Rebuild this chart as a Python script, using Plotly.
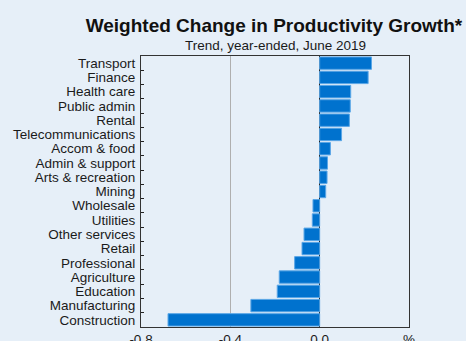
import plotly.graph_objects as go

categories = ["Transport", "Finance", "Health care", "Public admin", "Rental",
              "Telecommunications", "Accom & food", "Admin & support",
              "Arts & recreation", "Mining", "Wholesale", "Utilities",
              "Other services", "Retail", "Professional", "Agriculture",
              "Education", "Manufacturing", "Construction"]
values = [0.232, 0.217, 0.139, 0.137, 0.133, 0.098, 0.048, 0.035, 0.033, 0.027,
          -0.030, -0.033, -0.070, -0.079, -0.112, -0.181, -0.190, -0.308, -0.679]
tick_vals = [-0.8, -0.4, 0.0, 0.4]
tick_text = ["-0.8", "-0.4", "0.0", "%"]

BG = "#E6EFF8"
FONT = "Liberation Sans, Arial, sans-serif"

fig = go.Figure(go.Bar(
    x=values, y=categories, orientation="h",
    marker=dict(color="#0072CE", line=dict(color="#5AA6E6", width=1)),
))

fig.update_layout(
    width=466, height=341,
    margin=dict(l=141, r=57, t=55.5, b=14.3, autoexpand=False),
    paper_bgcolor=BG, plot_bgcolor=BG,
    font=dict(family=FONT, size=13.5, color="#1a1a1a"),
    bargap=0.13,
    showlegend=False,
    title=dict(text="<b>Weighted Change in Productivity Growth*</b>",
               font=dict(size=19, color="#111"),
               x=0.496, xref="paper", xanchor="center",
               y=1 - 25 / 341, yref="container", yanchor="middle"),
    annotations=[dict(text="Trend, year-ended, June 2019", xref="paper", yref="paper",
                      x=0.5, y=1 + 10.5 / 271.2, xanchor="center", yanchor="middle",
                      showarrow=False, font=dict(size=13.5, color="#1a1a1a"))],
)

fig.update_xaxes(range=[-0.8, 0.4], tickvals=tick_vals, ticktext=tick_text,
                 showgrid=True, gridcolor="#AFAFAF", gridwidth=1,
                 zeroline=True, zerolinecolor="#222", zerolinewidth=1,
                 showline=True, linecolor="#333", linewidth=1, mirror=True,
                 ticks="", automargin=False, fixedrange=True)
fig.update_yaxes(autorange="reversed", tickmode="linear", dtick=1,
                 tickson="boundaries", ticks="inside",
                 ticklen=3, tickcolor="#222", showline=True, linecolor="#333",
                 linewidth=1, mirror=True, showgrid=False, ticklabelstandoff=2,
                 automargin=False, fixedrange=True)

fig.write_html("out.html",
               config={"displayModeBar": False},
               post_script="document.body.style.margin='0';document.body.style.background='%s';" % BG)
